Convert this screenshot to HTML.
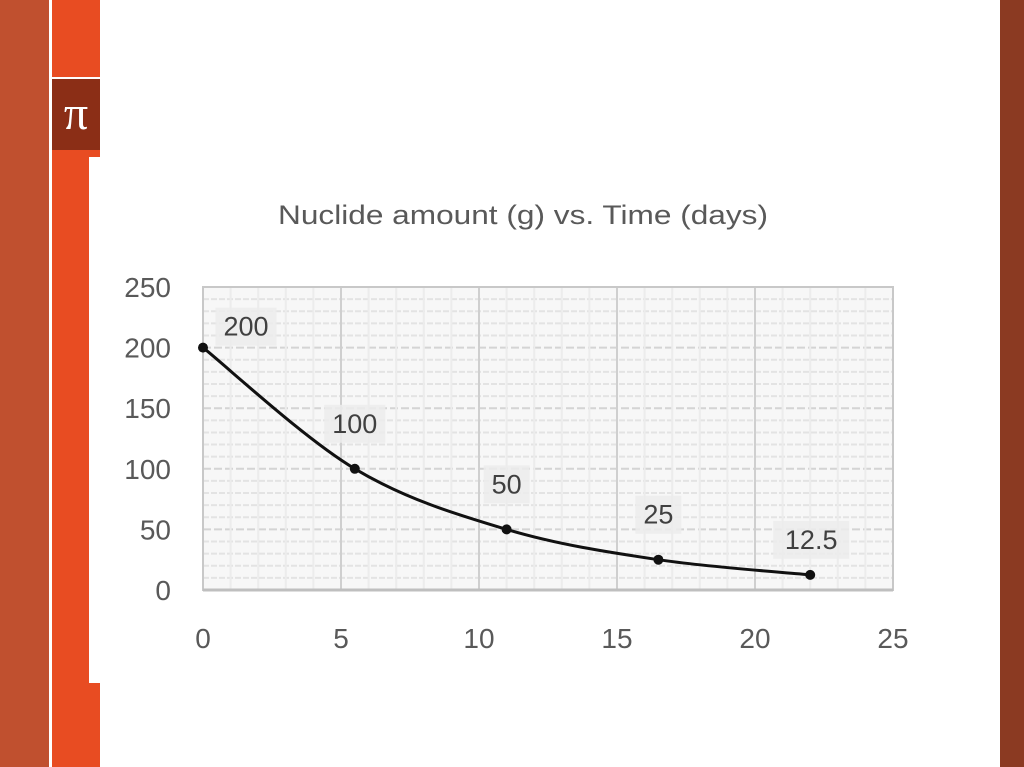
<!DOCTYPE html>
<html><head><meta charset="utf-8"><style>
body{margin:0;width:1024px;height:767px;overflow:hidden;background:#fff;position:relative;font-family:"Liberation Sans",sans-serif}
.a{position:absolute}
</style></head><body>
<div class="a" style="left:0;top:0;width:49px;height:767px;background:#c0502f"></div>
<div class="a" style="left:52px;top:0;width:48px;height:767px;background:#e84c22"></div>
<div class="a" style="left:52px;top:77px;width:48px;height:2px;background:#fff"></div>
<div class="a" style="left:52px;top:79px;width:48px;height:71px;background:#8b2e16;color:#fff;font:48px 'Liberation Serif',serif;text-align:center;line-height:70px">π</div>
<div class="a" style="left:89px;top:157px;width:11px;height:526px;background:#fff"></div>
<div class="a" style="left:1000px;top:0;width:24px;height:767px;background:#8b3a22"></div>
<svg class="a" style="left:0;top:0" width="1024" height="767">
<text x="523" y="224" text-anchor="middle" font-size="27" fill="#595959" font-family="Liberation Sans" textLength="490" lengthAdjust="spacingAndGlyphs">Nuclide amount (g) vs. Time (days)</text>
<g id="grid"></g><g id="ax"></g><g id="series"></g>
</svg>
<script>
const xVals=[0,5.5,11,16.5,22];
const yVals=[200,100,50,25,12.5];
const pointLabels=["200","100","50","25","12.5"];
const xTicks=[0,5,10,15,20,25];
const yTicks=[0,50,100,150,200,250];
const X0=203,X1=893,Y0=590,Y1=287;
const sx=v=>X0+(X1-X0)*v/25, sy=v=>Y0-(Y0-Y1)*v/250;
const NS='http://www.w3.org/2000/svg';
function mk(p,t,a){const e=document.createElementNS(NS,t);for(const k in a)e.setAttribute(k,a[k]);p.appendChild(e);return e;}
const grid=document.getElementById('grid'),ax=document.getElementById('ax'),ser=document.getElementById('series');
mk(grid,'rect',{x:X0,y:Y1,width:X1-X0,height:Y0-Y1,fill:'#f7f7f7'});
for(let v=0;v<=250;v+=10){const g=mk(grid,'line',{x1:X0,x2:X1,y1:sy(v),y2:sy(v),stroke:v%50?'#e3e3e3':'#d4d4d4','stroke-width':2,'stroke-dasharray':v%50?'6 2':'8 3'});}
for(let v=0;v<=25;v++){const g=mk(grid,'line',{x1:sx(v),x2:sx(v),y1:Y1,y2:Y0,stroke:v%5?'#ececec':'#cfcfcf','stroke-width':2});}
mk(grid,'rect',{x:X0,y:Y1,width:X1-X0,height:Y0-Y1,fill:'none',stroke:'#c8c8c8','stroke-width':2});
mk(grid,'line',{x1:X0,x2:X1,y1:Y0,y2:Y0,stroke:'#bfbfbf','stroke-width':3});
xTicks.forEach(v=>{const t=mk(ax,'text',{x:sx(v),y:648,'text-anchor':'middle','font-size':28,fill:'#595959','font-family':'Liberation Sans'});t.textContent=v;});
yTicks.forEach(v=>{const t=mk(ax,'text',{x:171,y:sy(v)+10,'text-anchor':'end','font-size':28,fill:'#595959','font-family':'Liberation Sans'});t.textContent=v;});
const P=xVals.map((x,i)=>[sx(x),sy(yVals[i])]);
let d='M'+P[0][0]+','+P[0][1];
for(let i=0;i<P.length-1;i++){const p0=P[i-1]||P[i],p1=P[i],p2=P[i+1],p3=P[i+2]||p2;
d+=` C${p1[0]+(p2[0]-p0[0])/6},${p1[1]+(p2[1]-p0[1])/6} ${p2[0]-(p3[0]-p1[0])/6},${p2[1]-(p3[1]-p1[1])/6} ${p2[0]},${p2[1]}`;}
const line=mk(ser,'path',{d:d,fill:'none',stroke:'#111','stroke-width':3});


P.forEach((p,i)=>{
const c=mk(ser,'circle',{cx:p[0],cy:p[1],r:5,fill:'#111'});


const dx=i==0?43:i==4?1:0, dy=i==0?-12:i==4?-26:-36;
const lx=p[0]+dx, ly=p[1]+dy;
const w=pointLabels[i].length*15+16;
mk(ser,'rect',{x:lx-w/2,y:ly-28,width:w,height:38,fill:'#ececec',opacity:0.85});
const t=mk(ser,'text',{x:lx,y:ly,'text-anchor':'middle','font-size':27,fill:'#404040','font-family':'Liberation Sans'});
t.textContent=pointLabels[i];


});
</script>
</body></html>
